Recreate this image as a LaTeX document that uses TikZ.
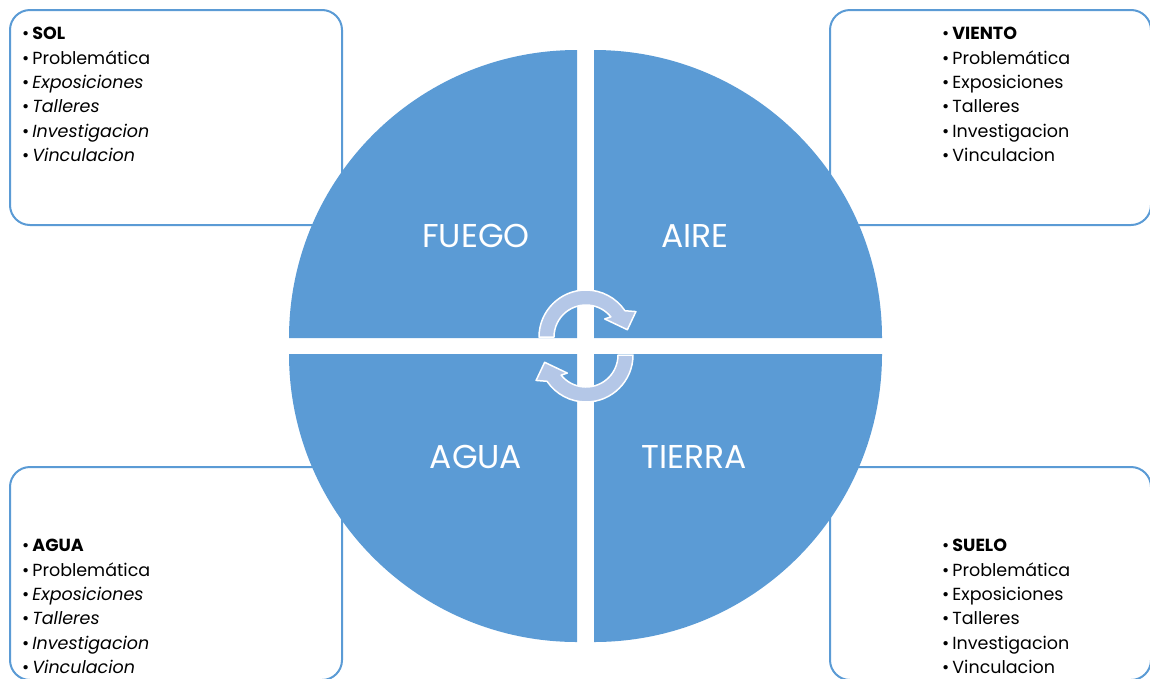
\documentclass[tikz,border=0pt]{standalone}
\usepackage{fontspec}
\setmainfont{Poppins}
\usepackage{tikz}
\usetikzlibrary{calc}
\definecolor{azul}{HTML}{5B9BD5}
\definecolor{claro}{HTML}{B4C7E7}
\newcommand{\bul}{•\hspace{3pt}}
\tikzset{
  infobox/.style={draw=azul,line width=2pt,rounded corners=20pt},
  listtxt/.style={font=\fontsize{17.5}{24.4}\selectfont,align=left,anchor=north west,inner sep=0pt},
  quad/.style={fill=azul},
  quadlbl/.style={text=white,font=\fontsize{33}{35}\selectfont,inner sep=0pt},
  cyc/.style={fill=claro,draw=white,line width=1.5pt,line join=round},
}
\begin{document}
\begin{tikzpicture}[x=1pt,y=-1pt]
  \useasboundingbox (0,0) rectangle (1150,678);
  \clip (0,0) rectangle (1150,678);
  % side boxes
  \draw[infobox] (10,10) rectangle (342,225);
  \draw[infobox] (830,10) rectangle (1151,225);
  \draw[infobox] (10,467) rectangle (342,680);
  \draw[infobox] (830,467) rectangle (1151,680);
  \node[listtxt] (sol) at (22,27) {\bul\textbf{SOL}\\\bul Problemática\\\bul\textit{Exposiciones}\\\bul\textit{Talleres}\\\bul\textit{Investigacion}\\\bul\textit{Vinculacion}};
  \node[listtxt] (viento) at (942,27) {\bul\textbf{VIENTO}\\\bul Problemática\\\bul Exposiciones\\\bul Talleres\\\bul Investigacion\\\bul Vinculacion};
  \node[listtxt] (agua) at (22,539) {\bul\textbf{AGUA}\\\bul Problemática\\\bul\textit{Exposiciones}\\\bul\textit{Talleres}\\\bul\textit{Investigacion}\\\bul\textit{Vinculacion}};
  \node[listtxt] (suelo) at (942,539) {\bul\textbf{SUELO}\\\bul Problemática\\\bul Exposiciones\\\bul Talleres\\\bul Investigacion\\\bul Vinculacion};
  % four quarters
  \fill[quad] (577,338) -- ++(-288,0) arc[start angle=180,end angle=270,radius=288] -- cycle;
  \fill[quad] (594,338) -- ++(0,-288) arc[start angle=270,end angle=360,radius=288] -- cycle;
  \fill[quad] (594,354) -- ++(288,0) arc[start angle=0,end angle=90,radius=288] -- cycle;
  \fill[quad] (577,354) -- ++(0,288) arc[start angle=90,end angle=180,radius=288] -- cycle;
  \node[quadlbl] (fuego) at (476,236) {FUEGO};
  \node[quadlbl] (aire) at (695,236) {AIRE};
  \node[quadlbl] (aguaq) at (476,457) {AGUA};
  \node[quadlbl] (tierra) at (694,457) {TIERRA};
  % cycle arrows
  \coordinate (c1) at (586,337);
  \coordinate (c2) at (586,355);
  \draw[cyc] ($(c1)+(180:47)$) arc[start angle=180,end angle=326,radius=47]
    -- ($(c1)+(333:56)$) -- ($(c1)+(350:42)$) -- ($(c1)+(316:26)$)
    -- ($(c1)+(321:32)$) arc[start angle=321,end angle=180,radius=32] -- cycle;
  \draw[cyc] ($(c2)+(0:47)$) arc[start angle=0,end angle=146,radius=47]
    -- ($(c2)+(153:56)$) -- ($(c2)+(170:42)$) -- ($(c2)+(136:26)$)
    -- ($(c2)+(141:32)$) arc[start angle=141,end angle=0,radius=32] -- cycle;
\end{tikzpicture}
\end{document}
